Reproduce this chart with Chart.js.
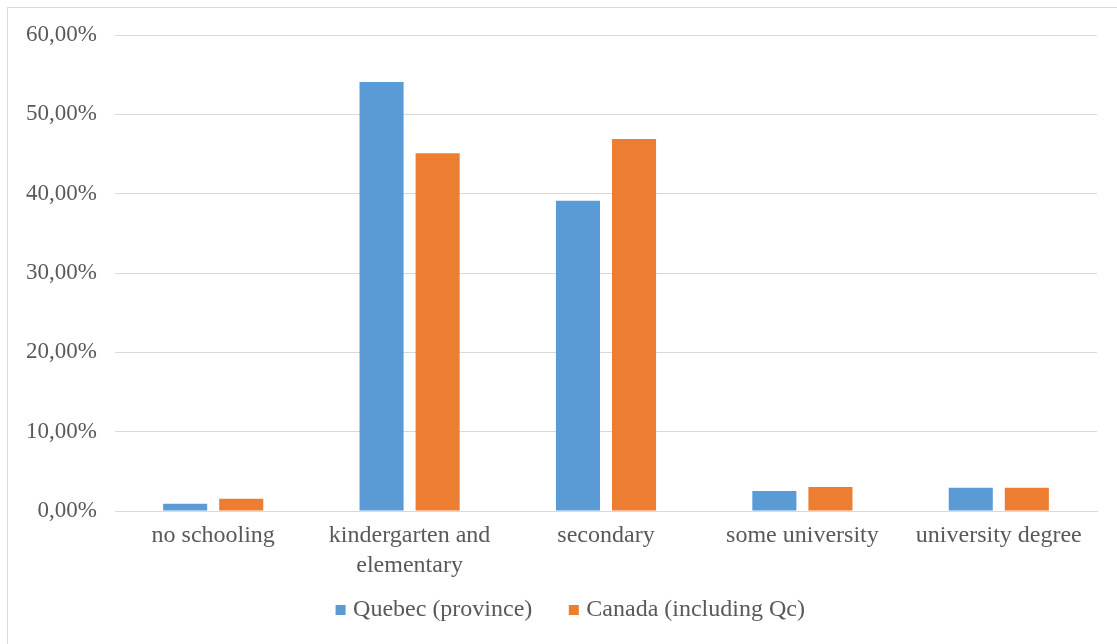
<!DOCTYPE html>
<html>
<head>
<meta charset="utf-8">
<script src="https://cdn.jsdelivr.net/npm/chart.js@4.4.1/dist/chart.umd.min.js"></script>
<style>
  html, body { margin: 0; padding: 0; background: #ffffff; }
  #wrap { position: absolute; left: 0; top: 0; width: 1117px; height: 644px; }
  #frame { position: absolute; left: 7px; top: 7px; width: 1200px; height: 700px;
           border-left: 1px solid #d9d9d9; border-top: 1px solid #d9d9d9; pointer-events: none; }
</style>
</head>
<body>
<div id="wrap"><canvas id="chart" width="1117" height="644"></canvas></div>
<div id="frame"></div>
<script>
// Education level shares, in percent
const categories = [
  "no schooling",
  ["kindergarten and", "elementary"],
  "secondary",
  "some university",
  "university degree"
];
const seriesNames = ["Quebec (province)", "Canada (including Qc)"];
const quebecValues = [0.92, 54.06, 39.10, 2.52, 2.94];
const canadaValues = [1.55, 45.10, 46.90, 3.03, 2.94];
const yTicks = [0, 10, 20, 30, 40, 50, 60];

const FONT = "'Liberation Serif', 'Times New Roman', serif";
const TEXT = "#595959";

// Legend uses a wide gap between entries but keeps a compact band height,
// and sits slightly right of the canvas centre.
const LEGEND_BAND = 52, LEGEND_LIFT = 25, LEGEND_SHIFT = 24;
const legendLayout = {
  id: "legendLayout",
  afterInit(chart) {
    const lg = chart.legend;
    const fit = lg.fit;
    lg.fit = function () { fit.call(this); this.height = LEGEND_BAND; };
    const draw = lg.draw;
    lg.draw = function () {
      const t = this.top, l = this.left, r = this.right;
      this.top = t - LEGEND_LIFT; this.left = l + LEGEND_SHIFT; this.right = r + LEGEND_SHIFT;
      draw.call(this);
      this.top = t; this.left = l; this.right = r;
    };
  }
};

new Chart(document.getElementById("chart"), {
  type: "bar",
  data: {
    labels: categories,
    datasets: [
      { label: seriesNames[0], data: quebecValues, backgroundColor: "#5B9BD5",
        categoryPercentage: 0.571, barPercentage: 0.786 },
      { label: seriesNames[1], data: canadaValues, backgroundColor: "#ED7D31",
        categoryPercentage: 0.571, barPercentage: 0.786 }
    ]
  },
  plugins: [legendLayout],
  options: {
    responsive: false,
    animation: false,
    layout: { padding: { left: 0, right: 20, top: 35, bottom: 10 } },
    plugins: {
      tooltip: { enabled: false },
      legend: {
        position: "bottom",
        labels: {
          color: TEXT,
          font: { family: FONT, size: 24 },
          boxWidth: 1, boxHeight: 10,
          usePointStyle: true, pointStyle: "rect",
          padding: 41
        }
      }
    },
    scales: {
      x: {
        afterFit: (axis) => { axis.height = 71; },
        grid: { display: false, drawTicks: false },
        border: { color: "#d9d9d9", width: 1 },
        ticks: {
          color: TEXT, font: { family: FONT, size: 24, lineHeight: 1.25 },
          maxRotation: 0, autoSkip: false, padding: 10
        }
      },
      y: {
        min: 0, max: 60,
        afterBuildTicks: (axis) => { axis.ticks = yTicks.map(v => ({ value: v })); },
        afterFit: (axis) => { axis.width = 115; },
        grid: { color: "#d9d9d9", lineWidth: 1, drawTicks: false },
        border: { display: false },
        ticks: {
          color: TEXT, font: { family: FONT, size: 23 }, padding: 18,
          callback: (v) => v.toFixed(2).replace(".", ",") + "%"
        }
      }
    }
  }
});
</script>
</body>
</html>
